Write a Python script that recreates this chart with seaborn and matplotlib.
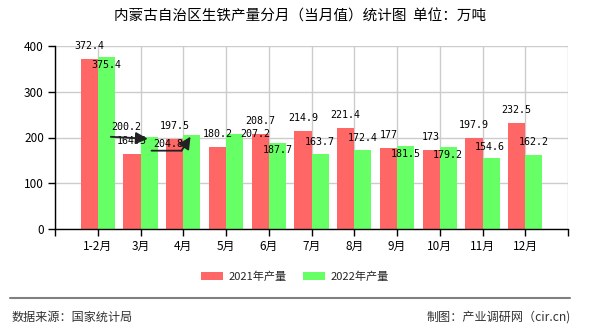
import matplotlib
matplotlib.use("Agg")
import matplotlib.pyplot as plt
from matplotlib.patches import Patch
from matplotlib.lines import Line2D
from matplotlib.transforms import offset_copy
import seaborn as sns
import pandas as pd

# ---- data ----
months = ["1-2月", "3月", "4月", "5月", "6月", "7月", "8月", "9月", "10月", "11月", "12月"]
years = ["2021年产量", "2022年产量"]
values_2021 = [372.4, 164.5, 197.5, 180.2, 208.7, 214.9, 221.4, 177, 173, 197.9, 232.5]
values_2022 = [375.4, 200.2, 204.8, 207.2, 187.7, 163.7, 172.4, 181.5, 179.2, 154.6, 162.2]
yticks = [0, 100, 200, 300, 400]
title = "内蒙古自治区生铁产量分月（当月值）统计图  单位：万吨"
source_text = "数据来源：国家统计局"
credit_text = "制图：产业调研网（cir.cn)"

# label placement (pixel offsets of value labels for the 2022 series)
green_label_offsets = [(0, -8), (-23, 10), (-24, -9), (21, 0), (0, -7), (0, 12),
                       (0, 12), (0, -8), (-1, -8), (-1, 11), (0, 13)]
# leader lines: index -> list of pixel offsets (relative to the arrow tip) of tail and corner
leaders = {1: [(-37, 2)], 2: [(-39, -14), (-9, -14)]}

red = "#FF6666"
green = "#66FF66"

df = pd.DataFrame({
    "month": months * 2,
    "value": values_2021 + values_2022,
    "year": [years[0]] * len(months) + [years[1]] * len(months),
})

sns.set_theme(style="white")
plt.rcParams["font.family"] = ["Noto Sans CJK SC", "DejaVu Sans"]

W, H = 590, 330
fig = plt.figure(figsize=(W / 100, H / 100), dpi=100)
ax = fig.add_axes([55 / W, 1 - 229 / H, (568 - 55) / W, (229 - 46) / H])

sns.barplot(data=df, x="month", y="value", hue="year", order=months,
            hue_order=years, palette=[red, green], saturation=1, width=0.8,
            linewidth=0, ax=ax, legend=False, errorbar=None)

ax.set_xlim(-1, 11)
ax.set_ylim(0, 400)
ax.set_xticks(range(-1, 12))
ax.set_xticklabels([""] + months + [""])
ax.set_yticks(yticks)
ax.set_yticklabels([str(t) for t in yticks])
ax.set_xlabel("")
ax.set_ylabel("")
ax.grid(True, color="#cccccc", lw=1)
ax.set_axisbelow(True)
for s in ["top", "right"]:
    ax.spines[s].set_visible(False)
for s in ["left", "bottom"]:
    ax.spines[s].set_color("black")
    ax.spines[s].set_linewidth(1)
ax.tick_params(axis="both", length=5, width=1, color="black", labelsize=8.5,
               labelcolor="black", pad=3, direction="out", bottom=True, left=True)

lab_font = dict(family="DejaVu Sans Mono", size=7.2, color="black")
for i, (v1, v2) in enumerate(zip(values_2021, values_2022)):
    ax.annotate(f"{v1:g}", (i - 0.2, v1), xytext=(0, 13), textcoords="offset pixels",
                ha="center", va="center", **lab_font)
    dx, dy = green_label_offsets[i]
    ax.annotate(f"{v2:g}", (i + 0.2, v2), xytext=(dx, dy), textcoords="offset pixels",
                ha="center", va="center", **lab_font)
    if i in leaders:
        pts = leaders[i] + [(0, 0)]
        tip = (i + 0.17, v2 - 3)
        # plain segments up to the last one
        for (ax0, ay0), (ax1, ay1) in zip(pts[:-2], pts[1:-1]):
            tr = offset_copy(ax.transData, fig=fig, x=ax1, y=ay1, units="dots")
            ax.annotate("", tip, xycoords=tr, xytext=(ax0 - ax1, ay0 - ay1),
                        textcoords="offset pixels",
                        arrowprops=dict(arrowstyle="-", color="#222222", lw=1.3,
                                        shrinkA=0, shrinkB=0))
        lx, ly = pts[-2]
        ax.annotate("", tip, xytext=(lx, ly), textcoords="offset pixels",
                    arrowprops=dict(arrowstyle="-|>,head_length=0.6,head_width=0.3",
                                    color="#222222", lw=1.3, shrinkA=0, shrinkB=0))

handles = [Patch(facecolor=red, edgecolor="none"), Patch(facecolor=green, edgecolor="none")]
fig.legend(handles, years, loc="center", bbox_to_anchor=(295 / W, 1 - 277 / H), ncol=2,
           frameon=False, fontsize=8, handlelength=2.0, handleheight=0.72,
           handletextpad=0.45, columnspacing=1.5, borderaxespad=0, borderpad=0)

fig.text(300 / W, 1 - 17 / H, title, ha="center", va="center", fontsize=10.5, color="black")
fig.add_artist(Line2D([10 / W, 570 / W], [1 - 298 / H] * 2, color="#808080", lw=1.5))
fig.text(12 / W, 1 - 317 / H, source_text, ha="left", va="center", fontsize=8.7, color="#333333")
fig.text(571 / W, 1 - 317 / H, credit_text, ha="right", va="center", fontsize=8.7, color="#333333")

fig.savefig("out.png", dpi=100)
